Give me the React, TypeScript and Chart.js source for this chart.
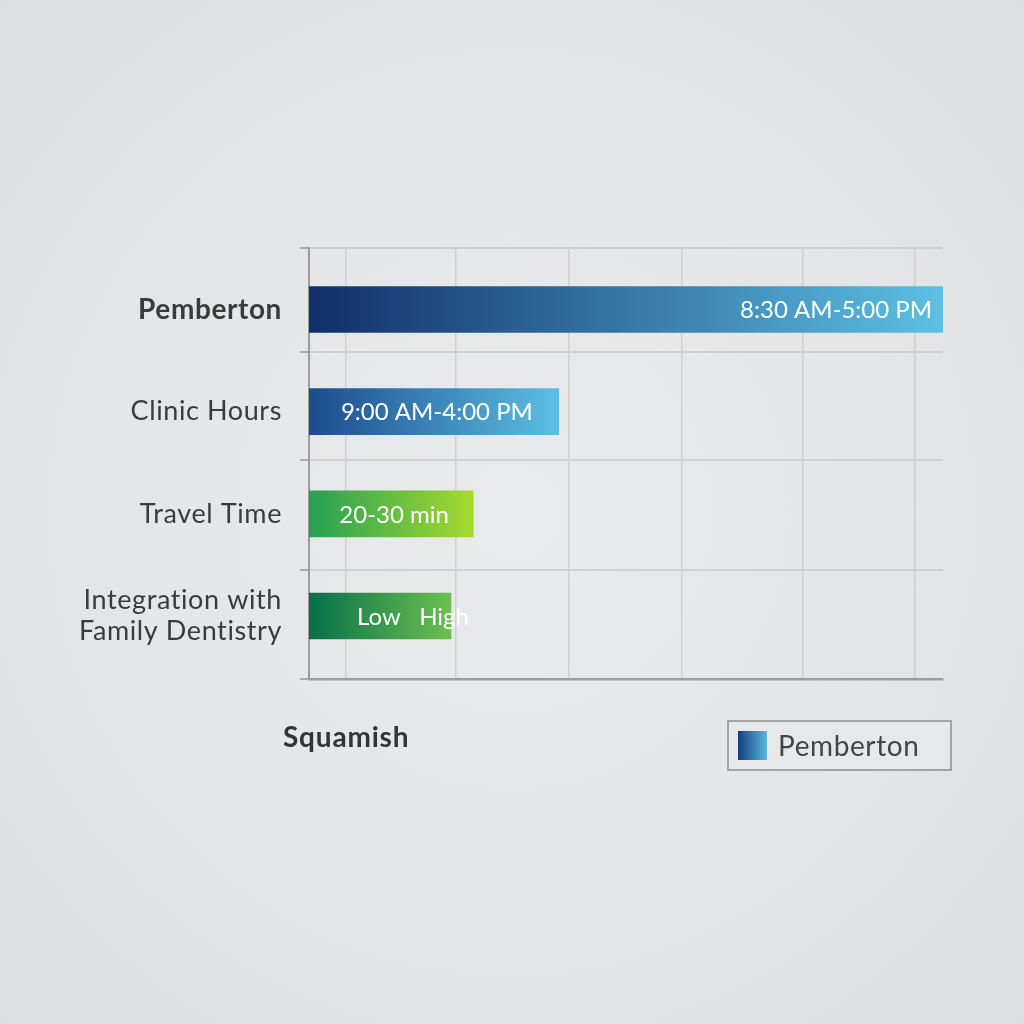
import { useEffect, useRef } from 'react';
import { Chart, registerables } from 'chart.js';

Chart.register(...registerables);

// ---- data ----
const categories: string[][] = [['Pemberton'], ['Clinic Hours'], ['Travel Time'], ['Integration with', 'Family Dentistry']];
const seriesName = 'Pemberton';
const values = [100, 39.4, 25.9, 22.4];
const barLabels = ['8:30 AM-5:00 PM', '9:00 AM-4:00 PM', '20-30 min', 'Low   High'];
const gridTicks = [5.8, 23.2, 41.0, 58.8, 77.8, 95.6];
const rowDividers = [-0.602, 0.416, 1.473, 2.55, 3.617];
const footerLabel = 'Squamish';

// ---- styles ----
const barGradients: [string, string][] = [
  ['#112f6a', '#5cc0e3'],
  ['#1c4b8e', '#5cc0e3'],
  ['#25a055', '#a6d92e'],
  ['#05704a', '#6cc050'],
];
const labelPlacement = ['end', 'center', 'center', 'start'];
const FONT = 'Lato, "Open Sans", sans-serif';
const isRow = (v: number) => Number.isInteger(v);

const spacingPlugin = {
  id: 'spacing',
  beforeUpdate(chart: any) {
    (chart.ctx as any).letterSpacing = '0.6px';
  },
  beforeDraw(chart: any) {
    (chart.ctx as any).letterSpacing = '0.6px';
  },
};

const overlayPlugin = {
  id: 'overlay',
  afterDatasetsDraw(chart: any) {
    const ctx = chart.ctx as CanvasRenderingContext2D;
    const meta = chart.getDatasetMeta(0);
    ctx.save();
    (ctx as any).letterSpacing = '0px';
    ctx.fillStyle = '#ffffff';
    ctx.font = `400 24px ${FONT}`;
    ctx.textBaseline = 'middle';
    meta.data.forEach((bar: any, i: number) => {
      const { x, y, base } = bar.getProps(['x', 'y', 'base'], true);
      const text = barLabels[i];
      const mode = labelPlacement[i];
      if (mode === 'end') {
        ctx.textAlign = 'right';
        ctx.fillText(text, x - 11, y + 1);
      } else if (mode === 'center') {
        ctx.textAlign = 'center';
        ctx.fillText(text, (x + base) / 2 + 3, y + 1);
      } else {
        ctx.textAlign = 'left';
        ctx.fillText(text, base + 48, y + 1);
      }
    });
    ctx.restore();
  },
  afterDraw(chart: any) {
    const ctx = chart.ctx as CanvasRenderingContext2D;
    const area = chart.chartArea;
    ctx.save();
    (ctx as any).letterSpacing = '0.8px';
    ctx.fillStyle = '#333437';
    ctx.font = `700 28px ${FONT}`;
    ctx.textBaseline = 'middle';
    ctx.textAlign = 'left';
    ctx.fillText(footerLabel, area.left - 26, area.bottom + 59);
    const bx = area.right - 215, by = area.bottom + 42, bw = 223, bh = 49;
    ctx.fillStyle = '#e7e8e9';
    ctx.fillRect(bx, by, bw, bh);
    ctx.strokeStyle = '#a3a4a6';
    ctx.lineWidth = 2;
    ctx.strokeRect(bx, by, bw, bh);
    const g = ctx.createLinearGradient(bx + 10, 0, bx + 39, 0);
    g.addColorStop(0, '#123f82');
    g.addColorStop(1, '#5ab8de');
    ctx.fillStyle = g;
    ctx.fillRect(bx + 10, by + 10, 29, 29);
    (ctx as any).letterSpacing = '0.6px';
    ctx.fillStyle = '#444548';
    ctx.font = `400 28px ${FONT}`;
    ctx.fillText(chart.data.datasets[0].label, bx + 50, by + bh / 2 + 1);
    ctx.restore();
  },
};

export default function App() {
  const ref = useRef<HTMLCanvasElement>(null);
  useEffect(() => {
    if (!ref.current) return;
    const chart = new Chart(ref.current, {
      type: 'bar',
      data: {
        datasets: [
          {
            label: seriesName,
            data: values.map((v, i) => ({ x: v, y: i })),
            barThickness: 46,
            borderWidth: 0,
            backgroundColor: (c: any) => {
              const ch = c.chart;
              if (!ch.chartArea || c.dataIndex === undefined) return barGradients[0][0];
              const xs = ch.scales.x;
              const x0 = xs.getPixelForValue(0);
              const x1 = xs.getPixelForValue(values[c.dataIndex]);
              const g = ch.ctx.createLinearGradient(x0, 0, x1, 0);
              const [a, b] = barGradients[c.dataIndex];
              g.addColorStop(0, a);
              g.addColorStop(1, b);
              return g;
            },
          },
        ],
      },
      options: {
        indexAxis: 'y',
        responsive: false,
        animation: false,
        devicePixelRatio: 1,
        layout: { padding: { left: 0, top: 248, right: 81, bottom: 345 } },
        plugins: { legend: { display: false }, tooltip: { enabled: false } },
        scales: {
          x: {
            type: 'linear',
            min: 0,
            max: 100,
            afterBuildTicks: (s: any) => {
              s.ticks = gridTicks.map((v) => ({ value: v }));
            },
            afterFit: (s: any) => {
              s.height = 0;
            },
            ticks: { display: false },
            grid: { color: '#cfd0d2', lineWidth: 1.5, drawTicks: false },
            border: { display: true, color: '#9c9d9f', width: 2.5 },
          },
          y: {
            type: 'linear',
            reverse: true,
            offset: false,
            min: rowDividers[0],
            max: rowDividers[rowDividers.length - 1],
            afterBuildTicks: (s: any) => {
              const vals = [...rowDividers, ...categories.map((_, i) => i)].sort((a, b) => a - b);
              s.ticks = vals.map((v) => ({ value: v }));
            },
            afterFit: (s: any) => {
              s.width = 309;
            },
            ticks: {
              autoSkip: false,
              color: '#3a3b3e',
              padding: 18,
              callback: (v: any) => (isRow(v) ? categories[v] : ''),
              font: (c: any) => ({
                family: FONT,
                size: c.tick && c.tick.value === 0 ? 28 : 27,
                weight: c.tick && c.tick.value === 0 ? 'bold' : 'normal',
                lineHeight: 1.15,
              }),
            },
            grid: {
              offset: false,
              color: (c: any) => (c.tick && isRow(c.tick.value) ? 'rgba(0,0,0,0)' : '#cfd0d2'),
              tickColor: (c: any) => (c.tick && isRow(c.tick.value) ? 'rgba(0,0,0,0)' : '#a9aaac'),
              lineWidth: 2,
              tickLength: 9,
            },
            border: { display: true, color: '#9c9d9f', width: 2 },
          },
        },
      },
      plugins: [spacingPlugin, overlayPlugin],
    });
    return () => chart.destroy();
  }, []);
  return (
    <div
      style={{
        position: 'fixed',
        left: 0,
        top: 0,
        width: 1024,
        height: 1024,
        background: 'radial-gradient(ellipse at center, #e9eaeb 0%, #e4e5e6 60%, #dcdddf 100%)',
      }}
    >
      <canvas ref={ref} width={1024} height={1024} style={{ display: 'block' }} />
    </div>
  );
}
